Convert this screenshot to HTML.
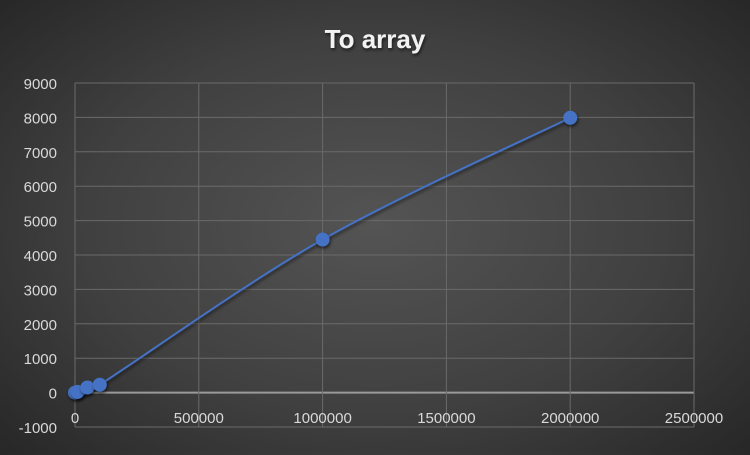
<!DOCTYPE html>
<html><head><meta charset="utf-8"><style>
html,body{margin:0;padding:0}
body{width:750px;height:450px;overflow:hidden;background:radial-gradient(ellipse 70% 75% at 50% 50%,#545454 0%,#404040 55%,#262626 100%);font-family:"Liberation Sans",sans-serif}
</style></head><body>
<svg id="chart" width="750" height="450" xmlns="http://www.w3.org/2000/svg">
<defs><filter id="sh" x="-50%" y="-50%" width="200%" height="200%"><feDropShadow dx="1" dy="2" stdDeviation="1.5" flood-color="#000" flood-opacity="0.6"/></filter></defs>
<text x="375" y="48" text-anchor="middle" fill="#f2f2f2" font-size="26" font-weight="bold" filter="url(#sh)">To array</text>
<g id="grid"></g><g id="axes"></g><g id="series"></g>
</svg>
<script>
const xValues=[0,10000,50000,100000,1000000,2000000];
const yValues=[0,20,150,230,4450,7990];
const xTicks=[0,500000,1000000,1500000,2000000,2500000];
const yTicks=[-1000,0,1000,2000,3000,4000,5000,6000,7000,8000,9000];
const L=75,R=694,T=83,B=427,xMax=2500000,yMin=-1000,yMax=9000;
const sx=v=>L+(v/xMax)*(R-L);
const sy=v=>B-(v-yMin)/(yMax-yMin)*(B-T);
const NS="http://www.w3.org/2000/svg";
function mk(t,a,p){const e=document.createElementNS(NS,t);for(const k in a)e.setAttribute(k,a[k]);p.appendChild(e);return e;}
const grid=document.getElementById('grid'),axes=document.getElementById('axes'),ser=document.getElementById('series');
yTicks.forEach(v=>{
 const l=mk('line',{x1:L,x2:R,y1:sy(v),y2:sy(v),stroke:v===0?'#9a9a9a':'#6a6a6a','stroke-width':v===0?2:1},grid);
 
 
 const t=mk('text',{x:57,y:sy(v)+6,'text-anchor':'end',fill:'#d9d9d9','font-size':15},axes);
 t.textContent=v;
 
 
});
xTicks.forEach(v=>{
 const l=mk('line',{x1:sx(v),x2:sx(v),y1:T,y2:B,stroke:'#6a6a6a','stroke-width':1},grid);
 
 
 const t=mk('text',{x:sx(v),y:423,'text-anchor':'middle',fill:'#d9d9d9','font-size':15},axes);
 t.textContent=v;
 
 
});
const pts=xValues.map((x,i)=>[sx(x),sy(yValues[i])]);
let d='M'+pts[0][0]+','+pts[0][1];
for(let i=0;i<pts.length-1;i++){
 const p0=pts[i-1]||pts[i],p1=pts[i],p2=pts[i+1],p3=pts[i+2]||p2,k=1/6;
 d+=' C'+(p1[0]+(p2[0]-p0[0])*k)+','+(p1[1]+(p2[1]-p0[1])*k)+' '+(p2[0]-(p3[0]-p1[0])*k)+','+(p2[1]-(p3[1]-p1[1])*k)+' '+p2[0]+','+p2[1];
}
const path=mk('path',{d:d,fill:'none',stroke:'#4472c4','stroke-width':2,filter:'url(#sh)'},ser);


pts.forEach(p=>{
 const c=mk('circle',{cx:p[0],cy:p[1],r:7,fill:'#4472c4',filter:'url(#sh)'},ser);
 
 
});
</script>
</body></html>
